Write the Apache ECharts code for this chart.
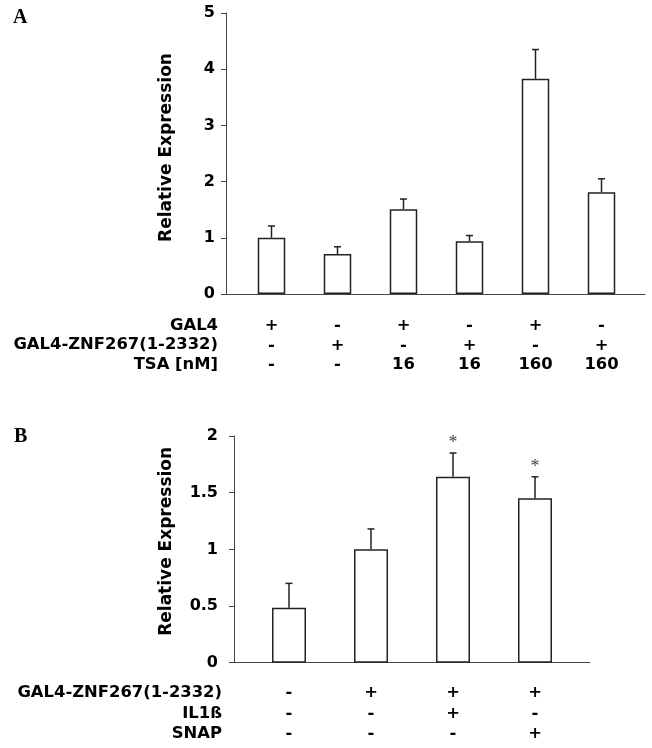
<!DOCTYPE html>
<html>
<head>
<meta charset="utf-8">
<script src="https://cdn.jsdelivr.net/npm/echarts@6/dist/echarts.min.js"></script>
<style>
  html, body { margin: 0; padding: 0; background: #fff; }
</style>
</head>
<body>
<div id="fig" style="width:652px; height:748px;"></div>
<script>
// panel A: treatment table rows
const rowNamesA = ['GAL4', 'GAL4-ZNF267(1-2332)', 'TSA [nM]'];
const gal4A = ['+', '-', '+', '-', '+', '-'];
const znfA = ['-', '+', '-', '+', '-', '+'];
const tsaA = ['-', '-', '16', '16', '160', '160'];
const valuesA = [1.0, 0.71, 1.51, 0.94, 3.83, 1.81];
const errA = [0.21, 0.13, 0.18, 0.10, 0.52, 0.24];

// panel B
const rowNamesB = ['GAL4-ZNF267(1-2332)', 'IL1ß', 'SNAP'];
const znfB = ['-', '+', '+', '+'];
const il1bB = ['-', '-', '+', '-'];
const snapB = ['-', '-', '-', '+'];
const valuesB = [0.485, 1.0, 1.64, 1.45];
const errB = [0.215, 0.18, 0.21, 0.19];
const sigB = [0, 0, 1, 1];

const ticksA = {min: 0, max: 5, interval: 1};
const ticksB = {min: 0, max: 2, interval: 0.5};

const BOLD = 'bold 16.4px "DejaVu Sans"';
const AXIS_COLOR = '#444';
const BAR_EDGE = '#222';

const labelsA = gal4A.map((g, i) => g + '\n' + znfA[i] + '\n' + tsaA[i]);
const labelsB = znfB.map((z, i) => z + '\n' + il1bB[i] + '\n' + snapB[i]);

// error bar: upward line + cap, optional asterisk
function errRender(params, api) {
  const x = api.value(0);
  const base = api.coord([x, api.value(1)]);
  const top = api.coord([x, api.value(2)]);
  const st = {stroke: BAR_EDGE, lineWidth: 1.5};
  const children = [
    {type: 'line', shape: {x1: base[0], y1: base[1], x2: top[0], y2: top[1]}, style: st},
    {type: 'line', shape: {x1: top[0] - 3.5, y1: top[1], x2: top[0] + 3.5, y2: top[1]}, style: st}
  ];
  if (api.value(3)) {
    children.push({
      type: 'text', x: top[0], y: top[1] - 1,
      style: {text: '*', font: '18px "Liberation Serif"', fill: '#444',
        align: 'center', textAlign: 'center', verticalAlign: 'bottom', textVerticalAlign: 'bottom'}
    });
  }
  return {type: 'group', children: children};
}

function catAxis(grid, data, margin, lh) {
  return {
    type: 'category', gridIndex: grid, data: data,
    axisLine: {show: false}, axisTick: {show: false},
    axisLabel: {interval: 0, margin: margin, lineHeight: lh, color: '#000',
      fontFamily: 'DejaVu Sans', fontWeight: 'bold', fontSize: 16.4}
  };
}
function baseAxis(grid) {
  return {
    type: 'value', gridIndex: grid, min: 0, max: 1,
    axisLine: {show: true, lineStyle: {color: AXIS_COLOR, width: 1}},
    axisTick: {show: false}, axisLabel: {show: false}, splitLine: {show: false}
  };
}
function valAxis(grid, t, gap, label, pad) {
  return {
    type: 'value', gridIndex: grid, min: t.min, max: t.max, interval: t.interval,
    axisLine: {show: true, lineStyle: {color: AXIS_COLOR, width: 1}},
    axisTick: {show: true, inside: false, length: 5, lineStyle: {color: AXIS_COLOR}},
    axisLabel: {margin: label, color: '#000', fontFamily: 'DejaVu Sans', fontWeight: 'bold', fontSize: 16},
    splitLine: {show: false},
    name: 'Relative Expression', nameLocation: 'middle', nameGap: gap,
    nameTextStyle: {fontFamily: 'DejaVu Sans', fontWeight: 'bold', fontSize: 17, color: '#000',
      padding: [0, 0, 0, pad]}
  };
}
function hiddenAxis(grid, t) {
  return {type: 'value', gridIndex: grid, min: t.min, max: t.max, show: false};
}

const option = {
  animation: false,
  grid: [
    {left: 238.5, width: 396, top: 13, height: 281},
    {left: 226, width: 419, top: 13, height: 281},
    {left: 248, width: 328, top: 436, height: 226.7},
    {left: 234, width: 356, top: 436, height: 226.7}
  ],
  xAxis: [
    catAxis(0, labelsA, 22, 19.5),
    baseAxis(1),
    catAxis(2, labelsB, 20, 20.5),
    baseAxis(3)
  ],
  yAxis: [
    hiddenAxis(0, ticksA),
    valAxis(1, ticksA, 51, 11, 12),
    hiddenAxis(2, ticksB),
    valAxis(3, ticksB, 59, 16, 16)
  ],
  series: [
    {
      type: 'bar', xAxisIndex: 0, yAxisIndex: 0, data: valuesA, barWidth: 27.5, silent: true,
      itemStyle: {color: '#fff', borderColor: BAR_EDGE, borderWidth: 1.5}
    },
    {
      type: 'custom', xAxisIndex: 0, yAxisIndex: 0, renderItem: errRender, silent: true, z: 3,
      data: valuesA.map((v, i) => [i, v, v + errA[i], 0])
    },
    {
      type: 'bar', xAxisIndex: 2, yAxisIndex: 2, data: valuesB, barWidth: 34, silent: true,
      itemStyle: {color: '#fff', borderColor: BAR_EDGE, borderWidth: 1.5}
    },
    {
      type: 'custom', xAxisIndex: 2, yAxisIndex: 2, renderItem: errRender, silent: true, z: 3,
      data: valuesB.map((v, i) => [i, v, v + errB[i], sigB[i]])
    }
  ],
  graphic: [
    {type: 'text', x: 13, y: 8, style: {text: 'A', font: 'bold 20px "Liberation Serif"', fill: '#000'}},
    {type: 'text', x: 14, y: 427, style: {text: 'B', font: 'bold 20px "Liberation Serif"', fill: '#000'}},
    {type: 'text', x: 218, y: 315.75, style: {text: rowNamesA.join('\n'), font: BOLD, fill: '#000',
      align: 'right', textAlign: 'right', verticalAlign: 'top', textVerticalAlign: 'top', lineHeight: 19.5}},
    {type: 'text', x: 222, y: 682.75, style: {text: rowNamesB.join('\n'), font: BOLD, fill: '#000',
      align: 'right', textAlign: 'right', verticalAlign: 'top', textVerticalAlign: 'top', lineHeight: 20.5}}
  ]
};

const chart = echarts.init(document.getElementById('fig'));
chart.setOption(option);
window.addEventListener('resize', () => chart.resize(), false);
</script>
</body>
</html>
